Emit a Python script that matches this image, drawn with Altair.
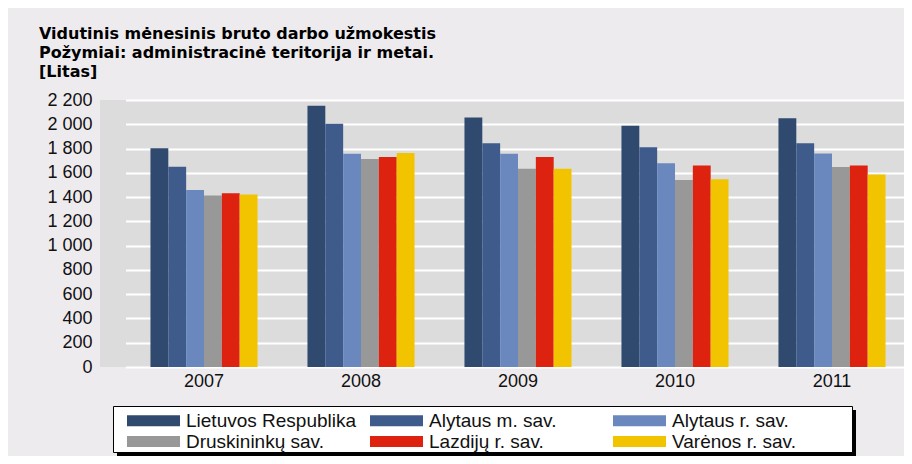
import altair as alt
import pandas as pd

years = ["2007", "2008", "2009", "2010", "2011"]
series = [
    "Lietuvos Respublika",
    "Alytaus m. sav.",
    "Alytaus r. sav.",
    "Druskininkų sav.",
    "Lazdijų r. sav.",
    "Varėnos r. sav.",
]
lietuva = [1802, 2152, 2056, 1988, 2050]
alytaus_m = [1650, 2004, 1843, 1810, 1843]
alytaus_r = [1458, 1757, 1757, 1678, 1760]
druskininku = [1414, 1713, 1634, 1540, 1647]
lazdiju = [1431, 1730, 1730, 1661, 1661]
varenos = [1422, 1763, 1634, 1546, 1587]
colors = ["#2F4A6E", "#3F5B8C", "#6B88BE", "#989898", "#DD2210", "#F2C400"]
y_ticks = [0, 200, 400, 600, 800, 1000, 1200, 1400, 1600, 1800, 2000, 2200]
title_lines = [
    "Vidutinis mėnesinis bruto darbo užmokestis",
    "Požymiai: administracinė teritorija ir metai.",
    "[Litas]",
]

rows = []
for s, vals in zip(series, [lietuva, alytaus_m, alytaus_r, druskininku, lazdiju, varenos]):
    for yr, v in zip(years, vals):
        rows.append({"metai": yr, "teritorija": s, "litai": v})
df = pd.DataFrame(rows)

FONT = "Liberation Sans"

bars = alt.Chart(df).mark_bar().encode(
    x=alt.X(
        "metai:N",
        sort=years,
        scale=alt.Scale(range=[25.5, 810.5], paddingInner=0.318, paddingOuter=0.159),
        axis=alt.Axis(title=None, labelAngle=0, ticks=False, domain=False, grid=False,
                      labelFont=FONT, labelFontSize=18, labelColor="#111111", labelPadding=5),
    ),
    xOffset=alt.XOffset("teritorija:N", sort=series,
                        scale=alt.Scale(paddingInner=0, paddingOuter=0)),
    y=alt.Y(
        "litai:Q",
        scale=alt.Scale(domain=[0, 2200], nice=False),
        axis=alt.Axis(title=None, values=y_ticks, ticks=False, domain=False,
                      grid=True, gridColor="white", gridWidth=2,
                      labelFont=FONT, labelFontSize=18, labelColor="#111111", labelPadding=8,
                      labelExpr="replace(format(datum.value, ','), ',', ' ')"),
    ),
    color=alt.Color(
        "teritorija:N",
        sort=series,
        scale=alt.Scale(domain=series, range=colors),
        legend=alt.Legend(
            title=None, orient="none", legendX=44, legendY=311, columns=3,
            direction="horizontal",
            gridAlign="all", columnPadding=12, rowPadding=1, padding=0,
            symbolType="M-4.82,-1H4.82V1H-4.82Z", symbolSize=121,
            symbolStrokeWidth=0, symbolOpacity=1, labelOffset=23,
            labelFont=FONT, labelFontSize=19, labelColor="#111111", labelLimit=400,
        ),
    ),
)

frame_df = pd.DataFrame({"k": [0]})
shadow = alt.Chart(frame_df).mark_rect(color="black").encode(
    x=alt.value(17), x2=alt.value(756), y=alt.value(310), y2=alt.value(357)
)
legend_box = alt.Chart(frame_df).mark_rect(fill="white", stroke="black", strokeWidth=1).encode(
    x=alt.value(13.5), x2=alt.value(752.5), y=alt.value(306.5), y2=alt.value(352.5)
)

chart = alt.layer(shadow, legend_box, bars).properties(
    width=804,
    height=267,
    padding={"left": 92, "top": 92, "right": 0, "bottom": 89},
    autosize=alt.AutoSizeParams(type="none"),
    background="#EEEBEF",
    title=alt.TitleParams(
        text=title_lines, anchor="start", frame="group", dx=-61,
        font="DejaVu Sans", fontSize=16, fontWeight="bold", lineHeight=19, color="black", offset=11,
    ),
).configure_view(fill="#DCDCDC", stroke=None)

chart.save("out.html", embed_options={"renderer": "svg", "actions": False})
